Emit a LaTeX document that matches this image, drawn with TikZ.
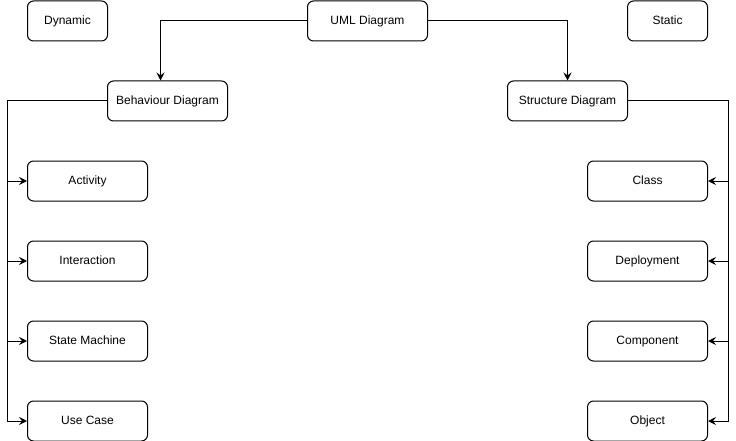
\documentclass[tikz,border=0pt]{standalone}
\usepackage{fontspec}
\setmainfont{Liberation Sans}
\usetikzlibrary{arrows.meta}
\begin{document}
\begin{tikzpicture}[x=1pt,y=-1pt,
  box/.style={draw=black, line width=1pt, rounded corners=6pt, fill=white,
    minimum width=#1, minimum height=40pt, inner sep=0pt, text height=9pt, text depth=2.5pt,
    font=\fontsize{12}{14}\selectfont, anchor=north west},
  box/.default=120pt,
  conn/.style={draw=black, line width=1pt, -{Stealth[length=8pt,width=8pt,inset=3pt]}}]
\useasboundingbox[fill=white] (0,0) rectangle (736,441);
\node[box=80pt] (dyn) at (27,0.5) {Dynamic};
\node[box=80pt] (sta) at (627,0.5) {Static};
\node[box] (uml) at (307,0.5) {UML Diagram};
\node[box] (beh) at (107,80.5) {Behaviour Diagram};
\node[box] (str) at (507,80.5) {Structure Diagram};
\node[box] (act) at (27,160.5) {Activity};
\node[box] (int) at (27,240.5) {Interaction};
\node[box] (stm) at (27,320.5) {State Machine};
\node[box] (use) at (27,400.5) {Use Case};
\node[box] (cls) at (587,160.5) {Class};
\node[box] (dep) at (587,240.5) {Deployment};
\node[box] (cmp) at (587,320.5) {Component};
\node[box] (obj) at (587,400.5) {Object};
\coordinate (behin) at ([xshift=-7pt]beh.north);
\draw[conn] (uml.west) -| (behin);
\draw[conn] (uml.east) -| (str.north);
\foreach \t in {act,int,stm,use}
  \draw[conn] (beh.west) -- ++(-100,0) |- (\t.west);
\foreach \t in {cls,dep,cmp,obj}
  \draw[conn] (str.east) -- ++(100,0) |- (\t.east);
\end{tikzpicture}
\end{document}
